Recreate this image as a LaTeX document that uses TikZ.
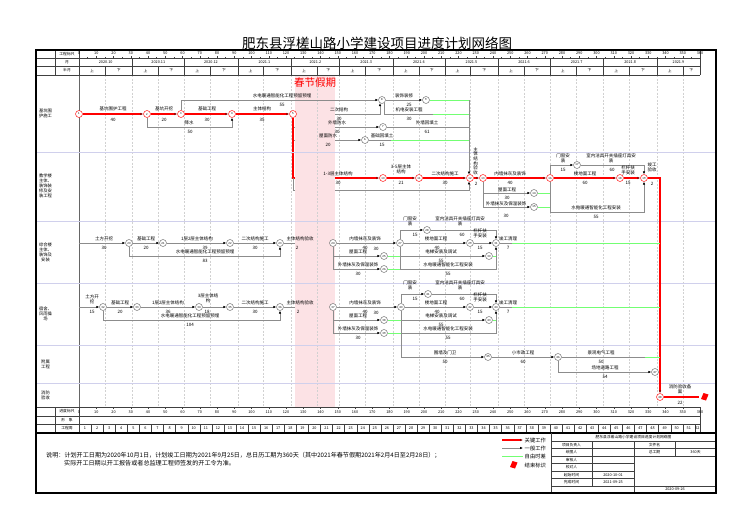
\documentclass[tikz,border=0pt]{standalone}
\usepackage{fontspec}
\setmainfont{Noto Sans CJK SC}
\usetikzlibrary{arrows.meta}
\pgfdeclarelayer{lbg}
\pgfdeclarelayer{lgrid}
\pgfdeclarelayer{lhid}
\pgfdeclarelayer{lband}
\pgfsetlayers{lbg,lgrid,lhid,lband,main}
\definecolor{sepc}{RGB}{208,208,236}
\definecolor{pinkc}{RGB}{252,226,229}
\newcounter{lbc}
\newcommand\lb[4][lbl]{\stepcounter{lbc}\node[#1] (lb\arabic{lbc}) at (#2,#3) {#4};}
\newcommand\X[1]{79+1.725*(#1)}
\tikzset{
  lbl/.style={font=\fontsize{4.5}{4.9}\selectfont, inner sep=0pt, align=center},
  vlbl/.style={font=\fontsize{4.5}{4.6}\selectfont, inner sep=0pt, align=center},
  hdr/.style={font=\fontsize{3.8}{4}\selectfont, inner sep=0pt},
  rowlbl/.style={font=\fontsize{4.3}{5}\selectfont, inner sep=0pt, align=center},
  crit/.style={draw=red, line width=1.1pt, -{Latex[length=3pt,width=2.6pt,color=red!55!black]}},
  norm/.style={draw=black!45, line width=0.75pt, -{Latex[length=3pt,width=2.6pt,color=black]}},
  plain/.style={draw=black!45, line width=0.75pt},
  fl/.style={draw=green!55, line width=0.9pt},
  nd/.style={circle, draw=black!60, line width=0.45pt, fill=white, minimum size=7pt, inner sep=0pt, font=\fontsize{2.8}{3}\selectfont},
  rnd/.style={nd, draw=red},
  bgrid/.style={draw=black!18, line width=0.35pt, dash pattern=on 2pt off 1.5pt},
  sepl/.style={draw=sepc, line width=0.7pt},
  tline/.style={draw=black!75, line width=0.35pt},
  frame/.style={draw=black, line width=1.2pt},
}
\begin{document}
\begin{tikzpicture}[x=1pt,y=-1pt]
\begin{pgfonlayer}{lbg}
\fill[white] (0,0) rectangle (750,530);
\end{pgfonlayer}
\useasboundingbox (0,0) rectangle (750,530);

% ---------- title ----------
\node[font=\fontsize{13.5}{14}\selectfont] (title) at (377,43) {肥东县浮槎山路小学建设项目进度计划网络图};

% ---------- header table ----------
\foreach \yy in {58,66,75} \draw[tline] (36,\yy) -- (700,\yy);
\foreach \xx in {55,79,700} \draw[tline] (\xx,50) -- (\xx,75);
\node[hdr] (h1) at (67,54) {工程标尺};
\node[hdr] (h2) at (67,62) {月};
\node[hdr] (h3) at (67,70.5) {半月};
\foreach \d in {0,10,...,360} {
  \draw[tline] ({\X{\d}},56.3) -- ({\X{\d}},58);
  \node[hdr] (r\d) at ({\X{\d}},53.6) {\d};
}
\foreach \d in {5,15,...,355} \draw[tline] ({\X{\d}},57.2) -- ({\X{\d}},58);
\foreach \a/\b/\mt in {0/31/2020.10,31/61/2020.11,61/92/2020.12,92/123/2021.1,123/151/2021.2,151/182/2021.3,182/212/2021.4,212/243/2021.5,243/273/2021.6,273/304/2021.7,304/335/2021.8,335/360/2021.9} {
  \draw[tline] ({\X{\b}},58) -- ({\X{\b}},75);
  \draw[tline] ({\X{\a+15}},66) -- ({\X{\a+15}},75);
  \node[hdr] (m\a) at ({\X{(\a+\b)/2}},62) {\mt};
  \node[hdr] (hu\a) at ({\X{\a+7.5}},70.5) {上};
  \node[hdr] (hd\a) at ({\X{(\a+15+\b)/2}},70.5) {下};
}

% ---------- body grid ----------
\begin{pgfonlayer}{lgrid}
\foreach \d in {15,31,46,61,76,92,107,123,151,166,182,197,212,227,243,258,273,288,304,319,335,350}
  \draw[bgrid] ({\X{\d}},75) -- ({\X{\d}},407);
\draw[black!60, line width=0.9pt] (79,75) -- (79,407);
\end{pgfonlayer}

% ---------- band ----------
\begin{pgfonlayer}{lband}
\fill[pinkc] (295,75) rectangle (335,407);
\draw[bgrid] ({\X{138}},75) -- ({\X{138}},407);
\foreach \yy in {152,221,283,345,383} \draw[sepl] (36,\yy) -- (716,\yy);
\end{pgfonlayer}
\node[font=\fontsize{10.5}{11}\selectfont, text=red] (cj) at (315,83) {春节假期};

% ---------- row labels ----------
\node[rowlbl] (rl1) at (45.5,113) {基坑围\\护施工};
\node[rowlbl] (rl2) at (45.5,186) {教学楼\\主体、\\装饰装\\修及安\\装工程};
\node[rowlbl] (rl3) at (45.5,252) {综合楼\\主体、\\装饰及\\安装};
\node[rowlbl] (rl4) at (45.5,314) {宿舍、\\风雨操\\场};
\node[rowlbl] (rl5) at (45.5,364) {附属\\工程};
\node[rowlbl] (rl6) at (45.5,395) {消防\\验收};

% ---------- nodes ----------
\node[rnd] (n1) at (79,114) {1};
\node[rnd] (n2) at (147,114) {2};
\node[rnd] (n3) at (181,114) {3};
\node[rnd] (n4) at (232,114) {4};
\node[rnd] (n5) at (293,114) {5};
\node[nd] (n7) at (365,140) {6};
\node[nd] (n6) at (383,127) {7};
\node[nd] (n8) at (382,100) {8};
\node[nd] (n9) at (426,100) {9};
\node[rnd] (n10) at (383,178) {10};
\node[rnd] (n11) at (419,178) {11};
\node[rnd] (n12) at (470,178) {12};
\node[rnd] (n13) at (483,178) {13};
\node[nd] (n15) at (534,193) {14};
\node[nd] (n16) at (534,207) {15};
\node[rnd] (n14) at (550,178) {16};
\node[nd] (n17) at (577,165) {17};
\node[rnd] (n19) at (620,178) {18};
\node[rnd] (n18) at (644,178) {19};
\node[nd] (n21) at (129,243) {20};
\node[nd] (n22) at (163,243) {21};
\node[nd] (n23) at (230,243) {22};
\node[nd] (n24) at (280,243) {23};
\node[nd] (n25) at (333,243) {24};
\node[nd] (n27) at (384,256) {25};
\node[nd] (n27b) at (384,269) {26};
\node[nd] (n26) at (400,243) {27};
\node[nd] (n28) at (427,230) {28};
\node[nd] (n30) at (470,243) {29};
\node[nd] (n31) at (489,256) {30};
\node[nd] (n29) at (496,243) {31};
\node[nd] (n32) at (103,307) {32};
\node[nd] (n33) at (137,307) {33};
\node[nd] (n34) at (199,307) {34};
\node[nd] (n35) at (230,307) {35};
\node[nd] (n36) at (280,307) {36};
\node[nd] (n37) at (333,307) {37};
\node[nd] (n39) at (384,320) {38};
\node[nd] (n40) at (384,333) {39};
\node[nd] (n38) at (401,307) {40};
\node[nd] (n41) at (428,294) {41};
\node[nd] (n43) at (470,307) {42};
\node[nd] (n44) at (489,320) {43};
\node[nd] (n42) at (496,307) {44};
\node[nd] (n45) at (488,357) {45};
\node[nd] (n46) at (558,357) {46};
\node[nd] (n47) at (655,372) {47};
\node[rnd] (n48) at (660,397) {48};

% ---------- hidden (holiday) lines ----------
\begin{pgfonlayer}{lhid}
\draw[norm] (n5) -- (380,114) -- (380,103.1);
\draw[norm] (293,127) -- (n6);
\draw[norm] (293,140) -- (n7);
\draw[crit] (n5) -- (n5 |- 0,178) -- (n10);
\draw[norm] (293,178) -- (293,190) -- (469,190) -- (469,181.4);
\draw[norm] (n24) -- (n25);
\draw[norm] (n36) -- (n37);
\end{pgfonlayer}

% ---------- row 1 ----------
\draw[crit] (n1) -- (n2);
\draw[crit] (n2) -- (n3);
\draw[crit] (n3) -- (n4);
\draw[crit] (n4) -- (n5);
\draw[norm] (n2) -- (n2 |- 0,127) -- (n4 |- 0,127) -- (n4);
\draw[norm] (n3) -- (n3 |- 0,100) -- (n8);
\draw[norm] (n8) -- (n9);
\draw[fl] (n9) -- (469,100);
\draw[norm] (469,100) -- (469,174.6);
\draw[plain] (384,103.2) -- (384,114) -- (433,114);
\draw[fl] (433,114) -- (469,114);
\draw[plain] (n6) -- (469,127);
\draw[plain] (n7) -- (391,140);
\draw[fl] (391,140) -- (469,140);
\lb{113}{109}{基坑围护工程} \lb{113}{119.5}{40}
\lb{164}{109}{基坑开挖} \lb{164}{119.5}{20}
\lb{207}{109}{基础工程} \lb{207}{119.5}{30}
\lb{262}{109}{主体结构} \lb{262}{119.5}{35}
\lb{189}{122.5}{降水} \lb{190}{132}{50}
\lb{282}{96}{水电暖通智能化工程预留预埋} \lb{282}{105}{55}
\lb{404}{96}{装饰装修} \lb{409}{104.5}{25}
\lb{339}{109.5}{二次结构} \lb{339}{118.5}{30}
\lb{409}{109.5}{机电安装工程} \lb{409}{118.5}{30}
\lb{337}{123}{外墙防水} \lb{337}{131.5}{30}
\lb{427}{123}{外墙回填土} \lb{427}{131.5}{61}
\lb{328}{136}{屋面防水} \lb{328}{145}{20}
\lb{382}{136}{基础回填土} \lb{382}{145}{15}

% ---------- row 2 ----------
\draw[crit] (n10) -- (n11);
\draw[crit] (n11) -- (n12);
\draw[crit] (n12) -- (n13);
\draw[crit] (n13) -- (n14);
\draw[crit] (n14) -- (n19);
\draw[crit] (n19) -- (n18);
\draw[norm] (n13) -- (n13 |- 0,193) -- (n15);
\draw[fl] (n15) -- (550,193);
\draw[norm] (483,193) -- (483,207) -- (n16);
\draw[fl] (n16) -- (550,207);
\draw[norm] (n14) -- (n14 |- 0,165) -- (n17);
\draw[norm] (n17) -- (644,165) -- (n18);
\draw[norm] (n14) -- (n14 |- 0,212) -- (644,212) -- (n18);
\draw[crit] (n18) -- (660,178) -- (n48);
\lb{338}{174}{1-3层主体结构} \lb{338}{183}{30}
\lb{401}{169.5}{3-5层主体\\结构} \lb{401}{183}{21}
\lb{445}{174}{二次结构施工} \lb{445}{183}{30}
\lb[vlbl]{475.5}{161}{主\\体\\结\\构\\验\\收} \lb{476}{184}{2}
\lb{510}{174}{内墙抹灰及装饰} \lb{510}{183}{40}
\lb{507}{189.5}{屋面工程} \lb{507}{197.5}{30}
\lb{506}{203.5}{外墙抹灰及保温装饰} \lb{506}{216}{30}
\lb{563}{158}{门窗安\\装} \lb{563}{170}{15}
\lb{611}{158}{室内洁具开关插座灯具安\\装} \lb{612}{170}{60}
\lb{585}{174}{楼地面工程} \lb{585}{183}{60}
\lb{628}{170}{栏杆扶\\手安装} \lb{628}{183}{15}
\lb{596}{208}{水电暖通智能化工程安装} \lb{596}{217}{55}
\lb{652}{167}{竣工\\验收} \lb{652}{184}{2}

% ---------- row 3 ----------
\draw[norm] (79,243) -- (n21);
\draw[norm] (n21) -- (n22);
\draw[norm] (n22) -- (n23);
\draw[norm] (n23) -- (n24);
\draw[norm] (n21) -- (n21 |- 0,256) -- (n24 |- 0,256) -- (n24);
\draw[norm] (n25) -- (n26);
\draw[norm] (n25) -- (n25 |- 0,256) -- (n27);
\draw[fl] (n27) -- (400,256);
\draw[norm] (333,256) -- (333,269) -- (n27b);
\draw[fl] (n27b) -- (400,269);
\draw[norm] (n26) -- (n26 |- 0,230) -- (n28);
\draw[norm] (n28) -- (496,230) -- (n29);
\draw[norm] (n26) -- (n30);
\draw[norm] (n30) -- (n29);
\draw[norm] (n26) -- (n26 |- 0,256) -- (n31);
\draw[fl] (n31) -- (496,256);
\draw[norm] (400,256) -- (400,269) -- (496,269) -- (n29);
\draw[plain] (n29) -- (512,243);
\draw[fl] (512,243) -- (660,243);
\lb{104}{238.5}{土方开挖} \lb{104}{247.5}{30}
\lb{146}{238.5}{基础工程} \lb{146}{247.5}{20}
\lb{197}{238.5}{1层2层主体结构} \lb{205}{247.5}{39}
\lb{255}{238.5}{二次结构施工} \lb{255}{247.5}{30}
\lb{300}{238.5}{主体结构验收} \lb{297}{247.5}{2}
\lb{205}{252}{水电暖通智能化工程预留预埋} \lb{205}{261}{83}
\lb{365}{238.5}{内墙抹灰及装饰} \lb{365}{247.5}{40}
\lb{358}{252}{屋面工程} \lb{376}{249}{30}
\lb{358}{265}{外墙抹灰及保温装饰} \lb{358}{274}{30}
\lb{410}{221.5}{门窗安\\装} \lb{415}{235}{15}
\lb{460}{221.5}{室内洁具开关插座灯具安\\装} \lb{462}{235}{60}
\lb{436}{238.5}{楼地面工程} \lb{437}{247.5}{40}
\lb{480}{233.5}{栏杆扶\\手安装} \lb{480}{247.5}{15}
\lb{441}{252}{电梯安装及调试} \lb{441}{260.5}{55}
\lb{448}{265}{水电暖通智能化工程安装} \lb{448}{274}{55}
\lb{508}{238.5}{竣工清理} \lb{508}{247.5}{7}

% ---------- row 4 ----------
\draw[norm] (79,307) -- (n32);
\draw[norm] (n32) -- (n33);
\draw[norm] (n33) -- (n34);
\draw[norm] (n34) -- (n35);
\draw[norm] (n35) -- (n36);
\draw[norm] (n32) -- (n32 |- 0,320) -- (n36 |- 0,320) -- (n36);
\draw[norm] (n37) -- (n38);
\draw[norm] (n37) -- (n37 |- 0,320) -- (n39);
\draw[fl] (n39) -- (401,320);
\draw[norm] (333,320) -- (333,333) -- (n40);
\draw[fl] (n40) -- (401,333);
\draw[norm] (n38) -- (n38 |- 0,294) -- (n41);
\draw[norm] (n41) -- (496,294) -- (n42);
\draw[norm] (n38) -- (n43);
\draw[norm] (n43) -- (n42);
\draw[norm] (n38) -- (n38 |- 0,320) -- (n44);
\draw[fl] (n44) -- (496,320);
\draw[norm] (401,320) -- (401,333) -- (496,333) -- (n42);
\draw[plain] (n42) -- (512,307);
\draw[fl] (512,307) -- (660,307);
\lb{92}{299.5}{土方开\\挖} \lb{92}{312}{15}
\lb{120}{302.5}{基础工程} \lb{120}{312}{20}
\lb{168}{302.5}{1层2层主体结构} \lb{168}{312}{36}
\lb{208}{298}{3层主体结\\构} \lb{207}{312}{18}
\lb{255}{302.5}{二次结构施工} \lb{255}{312}{30}
\lb{300}{302.5}{主体结构验收} \lb{298}{312}{2}
\lb{190}{316}{水电暖通智能化工程预留预埋} \lb{190}{325}{104}
\lb{365}{302.5}{内墙抹灰及装饰} \lb{365}{311.5}{40}
\lb{358}{316}{屋面工程} \lb{376}{313}{30}
\lb{358}{329}{外墙抹灰及保温装饰} \lb{358}{338}{30}
\lb{410}{285.5}{门窗安\\装} \lb{415}{299}{15}
\lb{460}{285.5}{室内洁具开关插座灯具安\\装} \lb{462}{299}{60}
\lb{436}{302.5}{楼地面工程} \lb{437}{311.5}{40}
\lb{480}{297.5}{栏杆扶\\手安装} \lb{480}{311.5}{15}
\lb{441}{316}{电梯安装及调试} \lb{441}{324.5}{55}
\lb{448}{329}{水电暖通智能化工程安装} \lb{448}{338}{55}
\lb{508}{302.5}{竣工清理} \lb{508}{311.5}{7}

% ---------- row 5 ----------
\draw[norm] (401,333) -- (401,357) -- (n45);
\draw[norm] (n45) -- (n46);
\draw[plain] (n46) -- (645,357);
\draw[fl] (645,357) -- (660,357);
\draw[norm] (n46) -- (n46 |- 0,372) -- (n47);
\lb{445}{352.5}{围墙及门卫} \lb{445}{362}{50}
\lb{523}{352.5}{小市政工程} \lb{523}{362}{60}
\lb{601}{352.5}{景观电气工程} \lb{601}{362}{50}
\lb{605}{367.5}{场地道路工程} \lb{605}{377}{54}

% ---------- row 6 ----------
\coordinate (endp) at (699,397);
\draw[red, line width=1.1pt] (n48) -- (endp);
\fill[red] (701,399) -- (703.5,393) -- (708.5,394.5) -- (706,400.5) -- cycle;
\lb{680}{389}{消防验收备\\案} \lb{680}{403}{22}

% ---------- bottom ruler ----------
\foreach \yy in {407,416,424} \draw[tline] (36,\yy) -- (700,\yy);
\foreach \xx in {55,79,700} \draw[tline] (\xx,407) -- (\xx,433);
\node[hdr] (bh1) at (67,411.5) {进度标尺};
\node[hdr] (bh2) at (67,420) {形\quad 象};
\node[hdr] (bh3) at (67,428.5) {工程周};
\foreach \d in {0,10,...,360} {
  \draw[tline] ({\X{\d}},407) -- ({\X{\d}},408.7);
  \node[hdr] (b\d) at ({\X{\d}},412) {\d};
}
\foreach \d in {5,15,...,355} \draw[tline] ({\X{\d}},407) -- ({\X{\d}},407.9);
\foreach \w in {1,...,52} {
  \pgfmathsetmacro\wb{min(7*\w,360)}
  \pgfmathsetmacro\wc{(7*(\w-1)+\wb)/2}
  \draw[tline] ({\X{\wb}},424) -- ({\X{\wb}},433);
  \node[hdr] (w\w) at ({\X{\wc}},428.5) {\w};
}

% ---------- notes and legend ----------
\draw[frame] (36,433) -- (716,433);
\node[anchor=west, inner sep=0pt, font=\fontsize{6.1}{6.5}\selectfont] (nt1) at (46,455) {说明：计划开工日期为2020年10月1日，计划竣工日期为2021年9月25日，总日历工期为360天（其中2021年春节假期2021年2月4日至2月28日）；};
\node[anchor=west, inner sep=0pt, font=\fontsize{6.1}{6.5}\selectfont] (nt2) at (64,463) {实际开工日期以开工报告或者总监理工程师签发的开工令为准。};
\coordinate (lg1a) at (502,440); \coordinate (lg1b) at (523,440);
\coordinate (lg2a) at (502,448); \coordinate (lg2b) at (523,448);
\coordinate (lg3a) at (502,456); \coordinate (lg3b) at (523,456);
\draw[crit] (lg1a) -- (lg1b);
\draw[norm] (lg2a) -- (lg2b);
\draw[fl] (lg3a) -- (lg3b);
\fill[red] (510,467) -- (512.5,461) -- (517.5,462.5) -- (515,468.5) -- cycle;
\node[anchor=west, inner sep=0pt, font=\fontsize{5.3}{6}\selectfont] (lt1) at (524.5,440) {关键工作};
\node[anchor=west, inner sep=0pt, font=\fontsize{5.3}{6}\selectfont] (lt2) at (524.5,448) {一般工作};
\node[anchor=west, inner sep=0pt, font=\fontsize{5.3}{6}\selectfont] (lt3) at (524.5,456) {自由时差};
\node[anchor=west, inner sep=0pt, font=\fontsize{5.3}{6}\selectfont] (lt4) at (524.5,465) {结束标识};

% ---------- title block ----------
\draw[tline] (551,433) -- (551,493);
\foreach \yy in {441,448.5,456,486} \draw[tline] (551,\yy) -- (716,\yy);
\foreach \yy in {463.5,471,478.5} \draw[tline] (551,\yy) -- (634,\yy);
\draw[tline] (592,441) -- (592,486);
\draw[tline] (634,441) -- (634,493);
\draw[tline] (675,441) -- (675,456);
\node[hdr] (tb0) at (633.5,437) {肥东县浮槎山路小学建设项目进度计划网络图};
\node[hdr] (tb1) at (571.5,444.8) {项目负责人};
\node[hdr] (tb2) at (654.5,444.8) {文件名};
\node[hdr] (tb3) at (571.5,452.3) {绘图人};
\node[hdr] (tb4) at (654.5,452.3) {总工期};
\node[hdr] (tb5) at (695.5,452.3) {360天};
\node[hdr] (tb6) at (571.5,459.8) {审核人};
\node[hdr] (tb7) at (571.5,467.3) {校对人};
\node[hdr] (tb8) at (571.5,474.8) {起始时间};
\node[hdr] (tb9) at (613,474.8) {2020-10-01};
\node[hdr] (tb10) at (571.5,482.3) {完成时间};
\node[hdr] (tb11) at (613,482.3) {2021-09-25};
\node[hdr] (tb12) at (675,489.5) {2020-09-26};

% ---------- outer frame ----------
\draw[frame] (36,50) rectangle (716,493);
\end{tikzpicture}
\end{document}
